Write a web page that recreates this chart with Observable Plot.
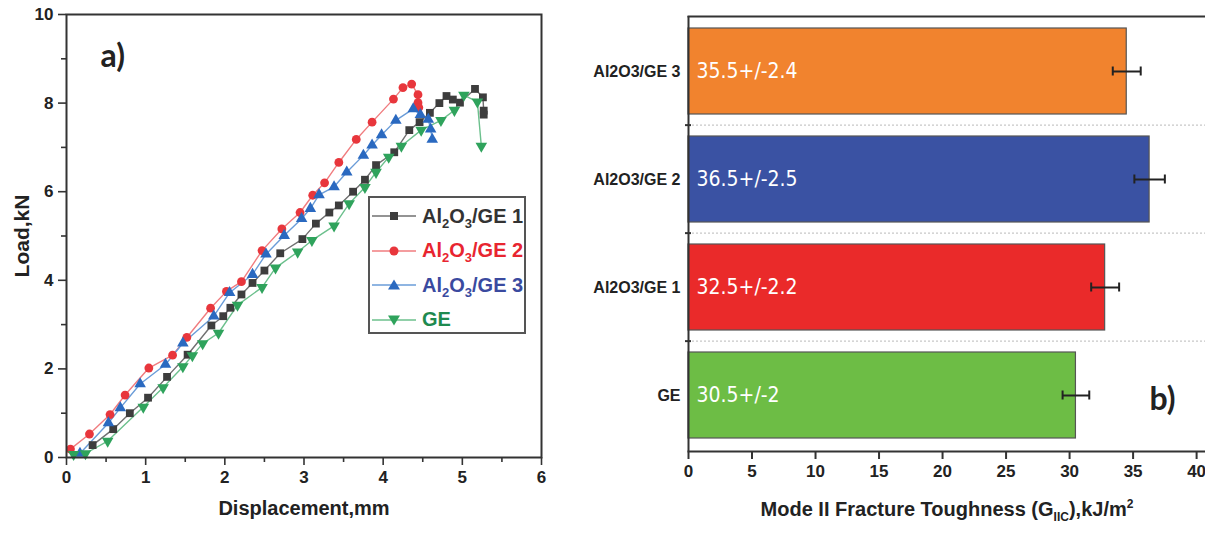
<!DOCTYPE html>
<html>
<head>
<meta charset="utf-8">
<script src="https://cdn.jsdelivr.net/npm/d3@7"></script>
<script src="https://cdn.jsdelivr.net/npm/@observablehq/plot@0.6"></script>
<style>
  body { margin: 0; background: #fff; }
  #wrap { position: relative; width: 1205px; height: 533px; overflow: hidden; background: #fff; font-family: "Liberation Sans", Arial, sans-serif; }
  #left { position: absolute; left: 0; top: 0; }
  #right { position: absolute; left: 560px; top: 0; width: 645px; height: 533px; overflow: hidden; }
  #wrap svg [aria-label$="tick label"] text, #wrap svg g[aria-label$="tick label"] { font-weight: bold !important; fill: #222; }
  #legend { position: absolute; left: 368px; top: 196px; width: 158px; height: 138px; border: 2px solid #555; background: #fff; box-sizing: border-box; }
  .lrow { position: absolute; left: 0; height: 30px; display: flex; align-items: center; }
  .lrow svg { margin-left: 1px; }
  .lrow span { font-weight: bold; font-size: 20px; margin-left: 5px; white-space: nowrap; }
  .lrow sub { font-size: 13px; vertical-align: -5px; line-height: 0; }
  #xtitleR { position: absolute; left: 600px; width: 700px; top: 498px; margin-left: -3px; text-align: center; font-weight: bold; font-size: 20px; color: #222; white-space: nowrap; }
  #xtitleR sub { font-size: 12px; vertical-align: -5px; line-height: 0; }
  #xtitleR sup { font-size: 12px; vertical-align: 8px; line-height: 0; }
</style>
</head>
<body>
<div id="wrap">
  <div id="left"></div>
  <div id="right"></div>
  <div id="legend"></div>
  <div id="xtitleR"></div>
</div>
<script>
// ---------- Panel a) data: displacement (mm), load (kN) ----------
const seriesNames = ["Al2O3/GE 1", "Al2O3/GE 2", "Al2O3/GE 3", "GE"];
const ge1 = [[0.33,0.28],[0.59,0.64],[0.80,1.00],[1.03,1.35],[1.27,1.82],[1.53,2.32],[1.83,2.98],[1.98,3.19],[2.07,3.38],[2.21,3.68],[2.35,3.94],[2.50,4.22],[2.70,4.61],[2.98,4.93],[3.15,5.28],[3.32,5.53],[3.44,5.69],[3.62,6.00],[3.77,6.27],[3.91,6.60],[4.14,6.89],[4.33,7.39],[4.46,7.57],[4.59,7.78],[4.71,8.00],[4.80,8.16],[4.88,8.08],[4.97,8.01],[5.16,8.32],[5.26,8.13],[5.27,7.83],[5.27,7.74]];
const ge2 = [[0.05,0.19],[0.29,0.53],[0.55,0.97],[0.74,1.41],[1.04,2.02],[1.34,2.31],[1.52,2.71],[1.82,3.37],[2.02,3.75],[2.21,3.97],[2.47,4.67],[2.72,5.16],[2.95,5.53],[3.11,5.92],[3.26,6.20],[3.44,6.66],[3.66,7.18],[3.86,7.57],[4.13,8.09],[4.25,8.35],[4.36,8.43],[4.44,8.19],[4.44,8.01],[4.45,7.90]];
const ge3 = [[0.17,0.09],[0.53,0.78],[0.68,1.12],[0.93,1.66],[1.25,2.10],[1.47,2.58],[1.86,3.19],[2.06,3.72],[2.35,4.13],[2.52,4.59],[2.75,5.01],[2.97,5.39],[3.08,5.62],[3.19,5.93],[3.38,6.11],[3.54,6.44],[3.75,6.82],[3.86,7.05],[3.98,7.28],[4.16,7.61],[4.38,7.87],[4.47,7.74],[4.57,7.63],[4.60,7.41],[4.62,7.18]];
const ge0 = [[0.09,0.07],[0.24,0.09],[0.52,0.37],[0.97,1.14],[1.22,1.58],[1.47,2.05],[1.59,2.30],[1.72,2.57],[1.92,2.81],[2.16,3.44],[2.47,3.84],[2.64,4.28],[2.92,4.64],[3.10,4.90],[3.38,5.23],[3.57,5.73],[3.77,6.10],[3.91,6.44],[4.07,6.78],[4.23,7.03],[4.48,7.39],[4.73,7.61],[4.90,7.84],[5.02,8.18],[5.19,8.03],[5.24,7.03]];
const xTicksA = [0,1,2,3,4,5,6];
const xMinorA = [0.5,1.5,2.5,3.5,4.5,5.5];
const yTicksA = [0,2,4,6,8,10];
const yMinorA = [1,3,5,7,9];

// ---------- Panel b) data ----------
const categories = ["Al2O3/GE 3", "Al2O3/GE 2", "Al2O3/GE 1", "GE"];
const toughness = [34.5, 36.3, 32.8, 30.5];
const toughErr = [1.1, 1.2, 1.1, 1.05];
const barLabels = ["35.5+/-2.4", "36.5+/-2.5", "32.5+/-2.2", "30.5+/-2"];
const xTicksB = [0,5,10,15,20,25,30,35,40];

// ---------- styles ----------
const markerColors = ["#3d3d3d", "#e8363c", "#2a69c0", "#2fa35c"];
const lineColors = ["#707070", "#f07c7f", "#6a9cd8", "#6cc08d"];
const textColors = ["#333333", "#e82530", "#3a4a9f", "#1e8a4f"];
const symbols = ["square", "circle", "triangle", "triangle"];
const rotations = [0, 0, 0, 180];
const barColors = ["#f1832e", "#3a52a3", "#ea2a2a", "#6dbd45"];
const bold = {fontWeight: "bold"};

const seriesData = [ge1, ge2, ge3, ge0];

// ---------- Panel a ----------
const leftMarks = [];
seriesData.forEach((data, i) => {
  leftMarks.push(Plot.line(data, {x: d => d[0], y: d => d[1], stroke: lineColors[i], strokeWidth: 1.4}));
});
seriesData.forEach((data, i) => {
  leftMarks.push(Plot.dot(data, {x: d => d[0], y: d => d[1], symbol: symbols[i], fill: markerColors[i], r: i >= 2 ? 4.3 : 4.4, rotate: rotations[i], stroke: "none"}));
});

const left = Plot.plot({
  width: 600, height: 533,
  marginLeft: 66, marginRight: 59, marginTop: 14, marginBottom: 76,
  style: {fontFamily: "'Liberation Sans', Arial, sans-serif", fontWeight: "bold", color: "#222", background: "#fff"},
  x: {domain: [0, 6]},
  y: {domain: [0, 10]},
  marks: [
    ...leftMarks,
    Plot.frame({stroke: "#333", strokeWidth: 2}),
    Plot.axisX({ticks: xTicksA, tickFormat: d => String(d), tickSize: 8, tickPadding: 5, fontSize: 17, ...bold, label: null, stroke: "#333", strokeWidth: 1.6}),
    Plot.axisX({ticks: xMinorA, tickSize: 5, tickFormat: () => "", label: null, stroke: "#333", strokeWidth: 1.6}),
    Plot.axisY({ticks: yTicksA, tickFormat: d => String(d), tickSize: 8, tickPadding: 5, fontSize: 17, ...bold, label: null, stroke: "#333", strokeWidth: 1.6}),
    Plot.axisY({ticks: yMinorA, tickSize: 5, tickFormat: () => "", label: null, stroke: "#333", strokeWidth: 1.6}),
    Plot.text(["Displacement,mm"], {frameAnchor: "bottom", dy: 57, fontSize: 20, fontWeight: "bold", fill: "#222"}),
    Plot.text(["Load,kN"], {frameAnchor: "left", dx: -44, rotate: -90, textAnchor: "middle", fontSize: 21, fontWeight: "bold", fill: "#222"}),
    Plot.text(["a)"], {frameAnchor: "top-left", dx: 34, dy: 30, fontSize: 32, fontWeight: "bold", fontFamily: "Lato, 'Open Sans', sans-serif", fill: "#222"})
  ]
});
document.getElementById("left").appendChild(left);

// ---------- Legend (HTML) ----------
const legend = document.getElementById("legend");
const legendTexts = ["Al<sub>2</sub>O<sub>3</sub>/GE 1", "Al<sub>2</sub>O<sub>3</sub>/GE 2", "Al<sub>2</sub>O<sub>3</sub>/GE 3", "GE"];
legendTexts.forEach((t, i) => {
  const row = document.createElement("div");
  row.className = "lrow";
  row.style.top = (3 + i * 34.5) + "px";
  let glyph;
  if (i === 0) glyph = `<rect x="19" y="11" width="8" height="8" fill="${markerColors[0]}"/>`;
  else if (i === 1) glyph = `<circle cx="23" cy="15" r="4.5" fill="${markerColors[1]}"/>`;
  else if (i === 2) glyph = `<path d="M23,9.5 L29,19.5 L17,19.5 Z" fill="${markerColors[2]}"/>`;
  else glyph = `<path d="M23,20.5 L29,10.5 L17,10.5 Z" fill="${markerColors[3]}"/>`;
  row.innerHTML = `<svg width="46" height="30"><line x1="1" y1="15" x2="45" y2="15" stroke="${lineColors[i]}" stroke-width="1.6"/>${glyph}</svg><span style="color:${textColors[i]}">${t}</span>`;
  legend.appendChild(row);
});

// ---------- Panel b ----------
const barData = categories.map((c, i) => ({cat: c, v: toughness[i], e: toughErr[i], label: barLabels[i], color: barColors[i]}));
const step = (533 - 82 - 16) / 4;
const right = Plot.plot({
  width: 645, height: 533,
  marginLeft: 128, marginRight: 0, marginTop: 16, marginBottom: 82,
  style: {fontFamily: "'Liberation Sans', Arial, sans-serif", fontWeight: "bold", color: "#222", background: "#fff"},
  x: {domain: [0, 40.7]},
  y: {domain: categories, paddingInner: 0.2, paddingOuter: 0.1},
  marks: [
    Plot.ruleY(categories.slice(1), {y: d => d, dy: -step / 2, stroke: "#c8c8c8", strokeWidth: 1.2, strokeDasharray: "2,2"}),
    Plot.ruleY(categories.slice(1), {y: d => d, dy: -step / 2, dx: -3, insetRight: 511, stroke: "#333", strokeWidth: 2}),
    Plot.barX(barData, {y: "cat", x: "v", fill: d => d.color, stroke: "#555", strokeWidth: 1.2}),
    Plot.link(barData, {y1: "cat", y2: "cat", x1: d => d.v - d.e, x2: d => d.v + d.e, stroke: "#222", strokeWidth: 2}),
    Plot.tickX(barData, {y: "cat", x: d => d.v - d.e, stroke: "#222", strokeWidth: 2, insetTop: 38.5, insetBottom: 38.5}),
    Plot.tickX(barData, {y: "cat", x: d => d.v + d.e, stroke: "#222", strokeWidth: 2, insetTop: 38.5, insetBottom: 38.5}),
    Plot.text(barData, {y: "cat", x: 0, text: "label", textAnchor: "start", dx: 8, fill: "#fff", fontSize: 21, fontWeight: "normal", fontFamily: "'Liberation Sans Narrow', 'DejaVu Sans Condensed', 'Roboto Condensed', sans-serif", fontStretch: "condensed"}),
    Plot.frame({anchor: "top", stroke: "#333", strokeWidth: 2}),
    Plot.frame({anchor: "bottom", stroke: "#333", strokeWidth: 2}),
    Plot.ruleX([0], {stroke: "#333", strokeWidth: 2}),
    Plot.axisX({ticks: xTicksB, tickSize: 8, tickPadding: 5, fontSize: 17, ...bold, label: null, stroke: "#333", strokeWidth: 2}),
    Plot.axisY({tickSize: 0, tickPadding: 8, fontSize: 16, ...bold, label: null}),
    Plot.text(["b)"], {frameAnchor: "bottom-right", dx: -30, dy: -42, fontSize: 32, fontWeight: "bold", fontFamily: "Lato, 'Open Sans', sans-serif", fill: "#222"})
  ]
});
document.getElementById("right").appendChild(right);

document.getElementById("xtitleR").innerHTML = "Mode II Fracture Toughness (G<sub>IIC</sub>),kJ/m<sup>2</sup>";
</script>
</body>
</html>
